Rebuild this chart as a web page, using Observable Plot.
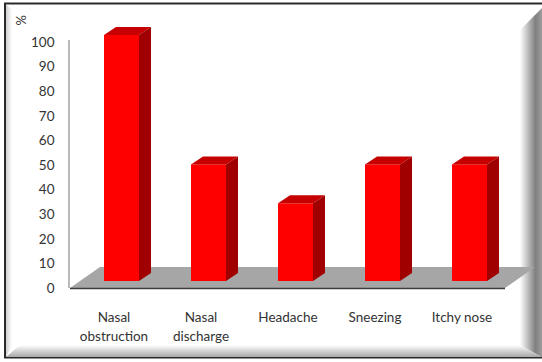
<!DOCTYPE html>
<html>
<head>
<meta charset="utf-8">
<script src="https://cdn.jsdelivr.net/npm/d3@7"></script>
<script src="https://cdn.jsdelivr.net/npm/@observablehq/plot@0.6"></script>
<style>
  body { margin: 0; background: #ffffff; }
  #chart svg { display: block; }
</style>
</head>
<body>
<div id="chart"></div>
<script>
// Symptom frequencies (%)
const categories = ["Nasal obstruction", "Nasal discharge", "Headache", "Sneezing", "Itchy nose"];
const categoryLabels = ["Nasal\nobstruction", "Nasal\ndischarge", "Headache", "Sneezing", "Itchy nose"];
const percentages = [100, 47.4, 31.6, 47.4, 47.4];
const yTicks = [0, 10, 20, 30, 40, 50, 60, 70, 80, 90, 100];
const yUnit = "%";

const data = categories.map((c, i) => ({category: c, label: categoryLabels[i], value: percentages[i]}));

// Pseudo-3D geometry (screen offsets)
const barShift = {dx: 8, dy: -7};     // columns stand mid-way across the floor
const barDepth = {dx: 12, dy: -8};    // thickness of each column
const floorDepth = {dx: 30, dy: -21}; // floor recedes up and to the right

const FONT = "Lato, 'Open Sans', sans-serif";

// Render-function arguments: locate scales and dimensions robustly
const findScales = args => args.find(a => a && typeof a.x === "function" && typeof a.y === "function");
const findDims = args => args.find(a => a && typeof a.marginLeft === "number" && typeof a.width === "number");

function addGradient(defs, id, horizontal, stops) {
  const g = defs.append("linearGradient").attr("id", id)
    .attr("x1", 0).attr("y1", 0)
    .attr("x2", horizontal ? 1 : 0).attr("y2", horizontal ? 0 : 1);
  for (const [o, c] of stops) g.append("stop").attr("offset", o).attr("stop-color", c);
}

// Bevelled picture frame around the whole chart
function frame(...args) {
  const {width, height} = findDims(args);
  const g = d3.create("svg:g");
  const defs = g.append("defs");
  addGradient(defs, "bevel-left", true, [[0, "#cfcfcf"], [1, "#ffffff"]]);
  addGradient(defs, "bevel-bottom", false, [[0, "#ffffff"], [1, "#a8a8a8"]]);
  addGradient(defs, "bevel-right", true, [[0, "#ffffff"], [0.7, "#808080"], [1, "#9c9c9c"]]);
  const L = 6, T = 4.5, B = height - 5, R = width + 4;
  g.append("rect").attr("x", L - 1).attr("y", T - 1).attr("width", R - L + 10).attr("height", B - T + 1.5)
    .attr("fill", "#ffffff").attr("stroke", "#2a2a2a").attr("stroke-width", 2);
  const poly = pts => pts.map(p => p.join(",")).join(" ");
  g.append("polygon").attr("points", poly([[L, T], [L + 6, T + 5], [L + 6, B - 12], [L, B]]))
    .attr("fill", "url(#bevel-left)");
  g.append("polygon").attr("points", poly([[L, B], [L + 14, B - 12], [width - 22, B - 12], [width, B]]))
    .attr("fill", "url(#bevel-bottom)");
  g.append("polygon").attr("points", poly([[width - 22, 30], [width, 8], [width, B], [width - 22, B - 12]]))
    .attr("fill", "url(#bevel-right)");
  return g.node();
}

// Grey floor under the columns
function floor(...args) {
  const {y} = findScales(args);
  const {width, marginLeft, marginRight} = findDims(args);
  const x0 = marginLeft, x1 = width - marginRight, y0 = y(0);
  const g = d3.create("svg:g");
  g.append("polygon")
    .attr("points", [[x0, y0], [x1, y0], [x1 + floorDepth.dx, y0 + floorDepth.dy], [x0 + floorDepth.dx, y0 + floorDepth.dy]].map(p => p.join(",")).join(" "))
    .attr("fill", "#a6a6a6");
  g.append("line").attr("x1", x0).attr("x2", x1).attr("y1", y0 + 0.5).attr("y2", y0 + 0.5)
    .attr("stroke", "#3c3c3c").attr("stroke-width", 1.5);
  // value axis line
  g.append("line").attr("x1", x0 - 1).attr("x2", x0 - 1).attr("y1", y(100) - 2).attr("y2", y0)
    .attr("stroke", "#8c8c8c").attr("stroke-width", 1.2);
  return g.node();
}

// Top and right faces of each column
function columnFaces(...args) {
  const {x, y} = findScales(args);
  const bw = typeof x.bandwidth === "function" ? x.bandwidth() : (x(categories[1]) - x(categories[0])) * 0.4;
  const g = d3.create("svg:g");
  for (const d of data) {
    const xl = x(d.category) + barShift.dx, xr = xl + bw;
    const yt = y(d.value) + barShift.dy, yb = y(0) + barShift.dy;
    const P = pts => pts.map(p => p.join(",")).join(" ");
    g.append("polygon")
      .attr("points", P([[xl, yt], [xr, yt], [xr + barDepth.dx, yt + barDepth.dy], [xl + barDepth.dx, yt + barDepth.dy]]))
      .attr("fill", "#c60000");
    g.append("polygon")
      .attr("points", P([[xr, yt], [xr + barDepth.dx, yt + barDepth.dy], [xr + barDepth.dx, yb + barDepth.dy], [xr, yb]]))
      .attr("fill", "#a00000");
  }
  return g.node();
}

const chart = Plot.plot({
  width: 542,
  height: 362,
  marginLeft: 70,
  marginRight: 37,
  marginTop: 42,
  marginBottom: 74,
  style: {background: "transparent", fontFamily: FONT, color: "#333"},
  x: {type: "band", domain: categories, paddingInner: 0.6, paddingOuter: 0.3, axis: null},
  y: {domain: [0, 100], axis: null},
  marks: [
    frame,
    floor,
    Plot.barY(data, {x: "category", y: "value", fill: "#ff0000", dx: barShift.dx, dy: barShift.dy}),
    columnFaces,
    Plot.axisY(yTicks, {tickSize: 0, tickPadding: 16, fontSize: 13.5, fill: "#333", label: null}),
    Plot.text(data, {
      x: "category", text: "label", frameAnchor: "bottom", lineAnchor: "top",
      dy: 20, lineHeight: 1.4, fontSize: 13.5, fill: "#333"
    }),
    Plot.text([yUnit], {frameAnchor: "top-left", dx: -54, dy: -17, rotate: -90, fontSize: 13, fill: "#333"})
  ]
});

document.getElementById("chart").append(chart);
</script>
</body>
</html>
